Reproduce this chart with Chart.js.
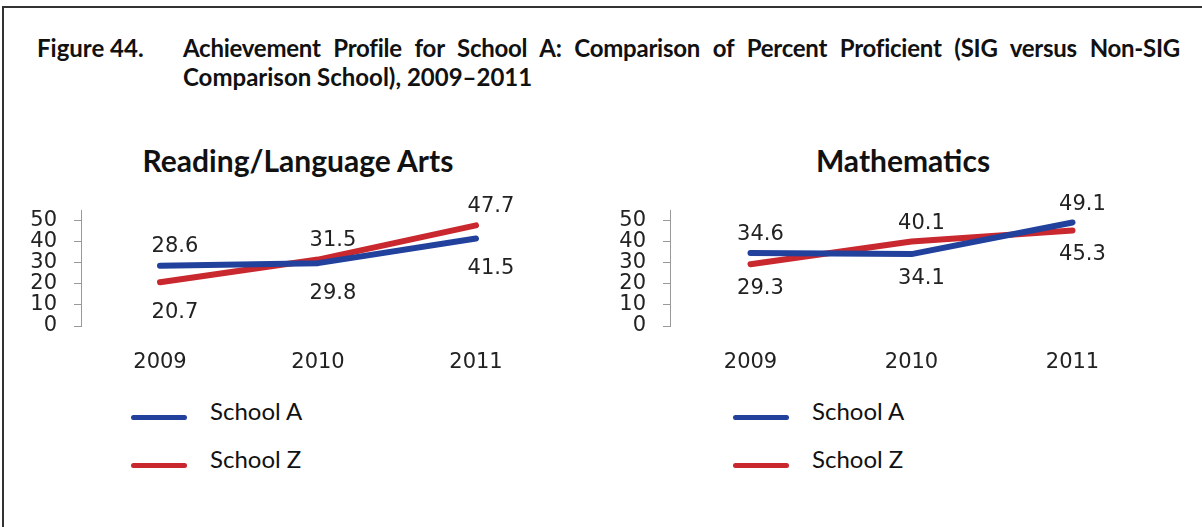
<!DOCTYPE html>
<html>
<head>
<meta charset="utf-8">
<script src="https://cdn.jsdelivr.net/npm/chart.js@4.4.0/dist/chart.umd.min.js"></script>
<style>
  body { margin: 0; background: #fff; width: 1202px; height: 527px; overflow: hidden; position: relative; font-family: Lato, sans-serif; color: #111; }
  .frame { position: absolute; left: 2px; top: 6px; width: 1300px; height: 600px; border-top: 2px solid #333; border-left: 2px solid #333; }
  .caption { position: absolute; top: 33px; left: 37px; width: 1143px; font-weight: bold; font-size: 24px; line-height: 29px; }
  .caption .num { position: absolute; left: 0; top: 0; }
  .caption .line1 { margin-left: 146px; white-space: nowrap; letter-spacing: -0.25px; text-align: justify; text-align-last: justify; }
  .caption .line2 { margin-left: 146px; white-space: nowrap; }
  .chart-title { position: absolute; top: 142px; width: 400px; text-align: center; font-weight: bold; font-size: 30px; line-height: 36px; }
  .chart-box { position: absolute; top: 130px; }
  .legend { position: absolute; top: 395px; font-size: 24px; }
  .legend .item { height: 48px; width: 220px; position: relative; }
  .legend .swatch { position: absolute; left: 0; top: 20px; width: 56px; height: 5px; border-radius: 3px; }
  .legend .label { position: absolute; left: 79px; top: 1px; line-height: 29px; }
</style>
</head>
<body>
<div class="frame"></div>
<div class="caption">
  <span class="num">Figure 44.</span>
  <div class="line1">Achievement Profile for School A: Comparison of Percent Proficient (SIG versus Non-SIG</div>
  <div class="line2">Comparison School), 2009–2011</div>
</div>

<div class="chart-title" style="left:98px">Reading/Language Arts</div>
<div class="chart-title" style="left:703px">Mathematics</div>

<div class="chart-box" style="left:0px"><canvas id="readingChart" width="600" height="246"></canvas></div>
<div class="chart-box" style="left:600px"><canvas id="mathChart" width="600" height="246"></canvas></div>

<div class="legend" id="legendLeft" style="left:131px"></div>
<div class="legend" id="legendRight" style="left:733px"></div>

<script>
// Veriler
const years = ['2009', '2010', '2011'];
const seriesNames = ['School A', 'School Z'];
const seriesColors = ['#22419c', '#c8282e'];
const yTicks = [0, 10, 20, 30, 40, 50];

const readingSchoolA = [28.6, 29.8, 41.5];
const readingSchoolZ = [20.7, 31.5, 47.7];
const mathSchoolA = [34.6, 34.1, 49.1];
const mathSchoolZ = [29.3, 40.1, 45.3];

// Etiket yerleşimi (noktanın üstü / altı)
const readingPlaceA = ['above', 'below', 'below'];
const readingPlaceZ = ['below', 'above', 'above'];
const mathPlaceA = ['above', 'below', 'above'];
const mathPlaceZ = ['below', 'above', 'below'];

// Değer etiketlerini çizen eklenti
const valueLabels = {
    id: 'valueLabels',
    afterDatasetsDraw(chart, args, opts) {
        const ctx = chart.ctx;
        ctx.save();
        ctx.font = '21px "DejaVu Sans"';
        ctx.fillStyle = '#222';
        ctx.textAlign = 'center';
        ctx.textBaseline = 'middle';
        chart.data.datasets.forEach((ds, i) => {
            const meta = chart.getDatasetMeta(i);
            meta.data.forEach((pt, j) => {
                const dy = ds.labelPlace[j] === 'above' ? -opts.gapAbove : opts.gapBelow;
                ctx.fillText(ds.data[j].toFixed(1), pt.x + opts.dx, pt.y + dy);
            });
        });
        ctx.restore();
    }
};

function makeChart(id, valsA, valsZ, placeA, placeZ, axisWidth, padRight, labelOpts) {
    const ctx = document.getElementById(id).getContext('2d');
    const tickFont = { family: 'DejaVu Sans', size: 21 };
    return new Chart(ctx, {
        type: 'line',
        data: {
            labels: years,
            datasets: [valsA, valsZ].map((vals, i) => ({
                label: seriesNames[i],
                data: vals,
                labelPlace: i === 0 ? placeA : placeZ,
                borderColor: seriesColors[i],
                backgroundColor: seriesColors[i],
                borderWidth: 6,
                borderCapStyle: 'round',
                borderJoinStyle: 'round',
                pointRadius: 0,
                tension: 0,
                clip: false
            }))
        },
        options: {
            responsive: false,
            animation: false,
            // üstte başlık ve etiketler için boşluk
            layout: { padding: { left: 0, right: padRight, top: 80, bottom: 0 } },
            scales: {
                x: {
                    offset: true,
                    grid: { display: false },
                    border: { display: false },
                    ticks: { font: tickFont, color: '#222', padding: 16, maxRotation: 0 },
                    afterFit: (scale) => { scale.height = 50; }
                },
                y: {
                    min: 0,
                    max: 55,
                    grid: { display: true, drawOnChartArea: false, drawTicks: true, tickLength: 7, color: '#999' },
                    border: { display: true, color: '#999', width: 1 },
                    ticks: { font: tickFont, color: '#222', padding: 17, autoSkip: false },
                    afterBuildTicks: (scale) => {
                        scale.ticks = yTicks.map(v => ({ value: v }));
                    },
                    afterFit: (scale) => { scale.width = axisWidth; }
                }
            },
            plugins: {
                legend: { display: false },
                tooltip: { enabled: false },
                title: { display: false },
                valueLabels: labelOpts
            }
        },
        plugins: [valueLabels]
    });
}

// HTML lejantı
function buildLegend(elId) {
    const el = document.getElementById(elId);
    seriesNames.forEach((name, i) => {
        const item = document.createElement('div');
        item.className = 'item';
        item.innerHTML = `<span class="swatch" style="background:${seriesColors[i]}"></span><span class="label">${name}</span>`;
        el.appendChild(item);
    });
}

makeChart('readingChart', readingSchoolA, readingSchoolZ, readingPlaceA, readingPlaceZ,
    81, 45, { dx: 15, gapAbove: 19, gapBelow: 30 });
makeChart('mathChart', mathSchoolA, mathSchoolZ, mathPlaceA, mathPlaceZ,
    70, 47, { dx: 10, gapAbove: 18, gapBelow: 24 });
buildLegend('legendLeft');
buildLegend('legendRight');
</script>
</body>
</html>
